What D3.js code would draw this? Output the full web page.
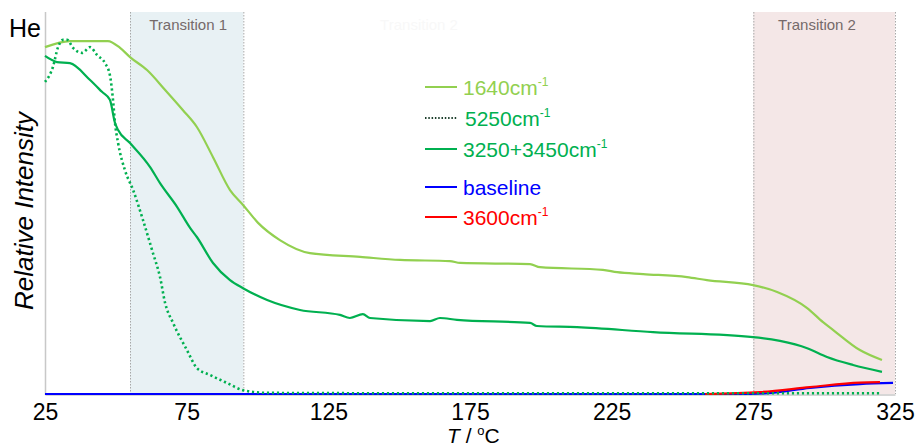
<!DOCTYPE html>
<html>
<head>
<meta charset="utf-8">
<script src="https://cdn.jsdelivr.net/npm/d3@7"></script>
<style>
  html, body { margin: 0; padding: 0; background: #fff; }
  svg { display: block; font-family: "Liberation Sans", Arial, sans-serif; }
</style>
</head>
<body>
<svg id="chart" width="918" height="447"></svg>
<script>
// Temperature sweep in He; relative intensity (0–100) of each absorption band.
const xTicks = [25, 75, 125, 175, 225, 275, 325];

const t1640 = [25, 33.8, 47.2, 51.5, 55, 61, 67.4, 73.7, 78.6, 84.3, 90.3, 94.9, 100.2, 107.9, 118.5, 136.2, 150.3, 167.9, 171.5, 196.2, 199.7, 221.9, 226.9, 236.1, 251.6, 258.6, 274.9, 283.4, 294, 299.6, 303.1, 312.6, 320.4];
const v1640 = [90.8, 92.4, 92.4, 90.6, 88.2, 84.8, 79.6, 74.3, 69.9, 62.0, 53.4, 49.5, 44.8, 40.3, 36.9, 35.9, 35.1, 34.8, 34.3, 34.0, 33.2, 32.5, 31.9, 31.4, 30.6, 29.8, 28.5, 26.7, 22.5, 18.8, 16.8, 11.5, 8.9];

const t5250 = [25, 27.8, 29.6, 31.4, 32.8, 34.9, 38.1, 40.9, 43.4, 46.2, 47.9, 49, 49.7, 50.8, 53.2, 56.1, 59.6, 63.1, 65.6, 67.4, 70.2, 75.1, 78.6, 83.2, 89.2, 94.9, 103.4, 150, 200, 250, 300, 319.7];
const v5250 = [81.7, 85.6, 90.8, 92.7, 92.7, 90.6, 89.3, 90.8, 88.7, 86.6, 83.5, 77.0, 71.0, 65.7, 58.6, 53.4, 45.5, 36.9, 30.6, 23.8, 18.6, 11.5, 6.8, 5.0, 2.9, 1.0, 0.3, 0.2, 0.2, 0.2, 0.2, 0.2];

const t3250 = [25, 29.2, 33.8, 40.9, 45.1, 47.9, 49.7, 50.8, 55, 62.1, 65.6, 71.6, 76.2, 78.6, 84.3, 90.3, 94.9, 103.4, 115, 129.1, 132.6, 137.2, 139.7, 160.9, 164.4, 170.4, 196.2, 198.6, 212.8, 239.6, 274.9, 284.4, 294, 301, 310.2, 320.4];
const v3250 = [88.5, 86.9, 86.6, 82.2, 79.1, 77.0, 71.0, 69.1, 65.7, 59.4, 55.2, 49.0, 43.5, 41.1, 34.3, 29.8, 27.7, 24.6, 22.0, 20.7, 19.9, 20.9, 19.9, 19.1, 19.9, 19.4, 18.6, 17.8, 17.5, 16.2, 14.9, 13.9, 12.0, 9.7, 7.6, 5.8];

const tBase = [25, 100, 200, 270, 280, 295, 312.6, 324.3];
const vBase = [0, 0, 0, 0, 0.2, 1.6, 2.6, 2.9];

const t3600 = [258, 277.4, 295, 312.6, 319.7];
const v3600 = [0, 0.5, 1.8, 3.0, 3.1];

const transitions = [
  { label: "Transition 1", from: 55, to: 95, fill: "#e8f1f4" },
  { label: "Transition 2", from: 275, to: 325, fill: "#f4e7e7" }
];

const svg = d3.select("#chart");
const x = d3.scaleLinear().domain([25, 325]).range([45, 895]);
const y = d3.scaleLinear().domain([0, 100]).range([394, 12]);

// shaded transition windows
const bands = svg.append("g");
transitions.forEach(t => {
  bands.append("rect")
    .attr("x", x(t.from)).attr("y", y(100))
    .attr("width", x(t.to) - x(t.from)).attr("height", y(0) - y(100))
    .attr("fill", t.fill);
  [t.from, t.to].forEach(v => {
    bands.append("line")
      .attr("x1", x(v) + 0.5).attr("x2", x(v) + 0.5)
      .attr("y1", y(100)).attr("y2", y(0))
      .attr("stroke", "#a8a8a8").attr("stroke-width", 1)
      .attr("stroke-dasharray", "1.5,1.5");
  });
});
bands.append("text").attr("x", x(75) + 1.5).attr("y", 30)
  .attr("text-anchor", "middle").attr("font-size", 15).attr("fill", "#756a6a")
  .text(transitions[0].label);
bands.append("text").attr("x", 817).attr("y", 30)
  .attr("text-anchor", "middle").attr("font-size", 15).attr("fill", "#756a6a")
  .text(transitions[1].label);
// faint leftover label
bands.append("text").attr("x", 419).attr("y", 30)
  .attr("text-anchor", "middle").attr("font-size", 15).attr("fill", "#f8f8f8")
  .text(transitions[1].label);

// axes
svg.append("line").attr("x1", 45.5).attr("x2", 45.5).attr("y1", 12).attr("y2", 395)
  .attr("stroke", "#c8c8c8").attr("stroke-width", 1.5);
const xAxis = d3.axisBottom(x).tickValues(xTicks).tickSize(0).tickPadding(9);
const gx = svg.append("g").attr("transform", "translate(0,394.5)").call(xAxis);
gx.select(".domain").attr("stroke", "#c8c8c8").attr("stroke-width", 1.5);
gx.selectAll("text").attr("font-size", 23).attr("fill", "#000")
  .attr("font-family", "Liberation Sans, Arial, sans-serif");

// series
const line = d3.line().x(d => x(d[0])).y(d => y(d[1])).curve(d3.curveMonotoneX);
const zip = (a, b) => a.map((v, i) => [v, b[i]]);

svg.append("path").datum(zip(t1640, v1640)).attr("d", line)
  .attr("fill", "none").attr("stroke", "#92d050").attr("stroke-width", 2.2);
svg.append("path").datum(zip(t3250, v3250)).attr("d", line)
  .attr("fill", "none").attr("stroke", "#00b050").attr("stroke-width", 2.2);
svg.append("path").datum(zip(tBase, vBase)).attr("d", line)
  .attr("fill", "none").attr("stroke", "#0000ff").attr("stroke-width", 2.2);
svg.append("path").datum(zip(t3600, v3600)).attr("d", line)
  .attr("fill", "none").attr("stroke", "#ff0000").attr("stroke-width", 2.2);
svg.append("path").datum(zip(t5250, v5250)).attr("d", line)
  .attr("fill", "none").attr("stroke", "#00b050").attr("stroke-width", 2.6)
  .attr("stroke-dasharray", "2.2,2.8");

// legend
const legend = [
  { name: "1640cm", sup: "-1", stroke: "#92d050", text: "#92d050", y: 87, dash: null },
  { name: "5250cm", sup: "-1", stroke: "#1d3f2c", text: "#00b050", y: 118, dash: "1.5,1.8" },
  { name: "3250+3450cm", sup: "-1", stroke: "#00b050", text: "#00b050", y: 149, dash: null },
  { name: "baseline", sup: "", stroke: "#0000ff", text: "#0000ff", y: 187, dash: null },
  { name: "3600cm", sup: "-1", stroke: "#ff0000", text: "#ff0000", y: 217, dash: null }
];
const lg = svg.append("g");
legend.forEach(d => {
  lg.append("line").attr("x1", 425).attr("x2", 457).attr("y1", d.y).attr("y2", d.y)
    .attr("stroke", d.stroke).attr("stroke-width", 2)
    .attr("stroke-dasharray", d.dash);
  const t = lg.append("text").attr("x", d.dash ? 465 : 463).attr("y", d.y + 7.5)
    .attr("font-size", 21).attr("fill", d.text);
  t.append("tspan").text(d.name);
  if (d.sup) t.append("tspan").attr("font-size", 12).attr("dy", -9).text(d.sup);
});

// labels
svg.append("text").attr("x", 9).attr("y", 37).attr("font-size", 25).attr("fill", "#000").text("He");
svg.append("text")
  .attr("transform", "translate(33,211) rotate(-90)")
  .attr("text-anchor", "middle").attr("font-size", 26).attr("font-style", "italic")
  .attr("fill", "#000").text("Relative Intensity");
const xl = svg.append("text").attr("x", 447).attr("y", 443).attr("font-size", 21).attr("fill", "#000");
xl.append("tspan").attr("font-style", "italic").text("T");
xl.append("tspan").text(" / ");
xl.append("tspan").attr("font-size", 13).attr("dy", -8).text("o");
xl.append("tspan").attr("dy", 8).text("C");
</script>
</body>
</html>
